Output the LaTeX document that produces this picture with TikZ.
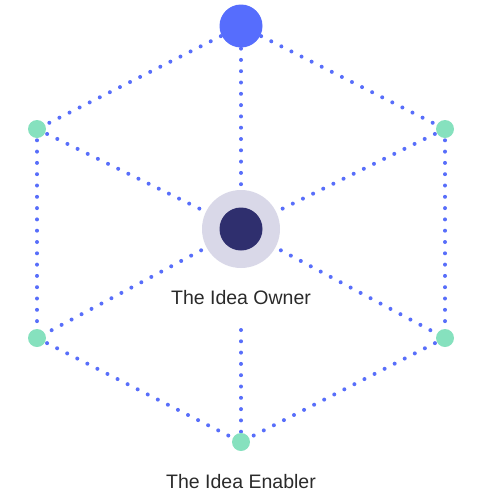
\documentclass[tikz,border=0pt]{standalone}
\usepackage{fontspec}
\setmainfont{Liberation Sans}
\usetikzlibrary{positioning, backgrounds}
\definecolor{linkblue}{HTML}{586EFA}
\definecolor{topblue}{HTML}{566DFD}
\definecolor{mint}{HTML}{86E1BE}
\definecolor{ringgray}{HTML}{D9D8E8}
\definecolor{ownerdark}{HTML}{2F2F6E}
\definecolor{labeltext}{HTML}{2A2A2A}

\begin{document}
\begin{tikzpicture}[
    x=1pt, y=-1pt,
    every node/.style={font=\fontsize{19.5}{23}\selectfont, text=labeltext},
    dot/.style={circle, inner sep=0pt, draw=none},
    peer/.style={dot, fill=mint, minimum size=18pt},
    apex/.style={dot, fill=topblue, minimum size=43pt},
    ring/.style={dot, fill=ringgray, minimum size=78pt},
    core/.style={dot, fill=ownerdark, minimum size=43pt},
    lbl/.style={anchor=base, inner sep=0pt},
    link/.style={linkblue, line width=4pt, line cap=round,
                 dash pattern=on 0pt off 11.3pt},
]
    \useasboundingbox (0,0) rectangle (478,499);

    % Hub and corners.
    \node[apex] (top)   at (241,26)  {};
    \node[ring] (ring)  at (241,229) {};
    \node[core] (owner) at (241,229) {};
    \node[peer] (ul)    at (37,129)  {};
    \node[peer] (ur)    at (445,129) {};
    \node[peer] (ll)    at (37,338)  {};
    \node[peer] (lr)    at (445,338) {};
    \node[peer] (bot)   at (241,442) {};

    % Labels.
    \node[lbl] (ownerlbl)   at (241,304) {The Idea Owner};
    \node[lbl] (enablerlbl) at (241,488) {The Idea Enabler};
    \coordinate (stem) at (241,330);

    % Dotted links.
    \begin{scope}[on background layer]
        \foreach \a/\b in {top/ul, top/ur, top/owner, ul/owner, ur/owner,
                           ul/ll, ur/lr, owner/ll, owner/lr, ll/bot, lr/bot} {
            \draw[link] (\a.center) -- (\b.center);
        }
        \draw[link] (stem) -- (bot.center);
    \end{scope}
\end{tikzpicture}
\end{document}
